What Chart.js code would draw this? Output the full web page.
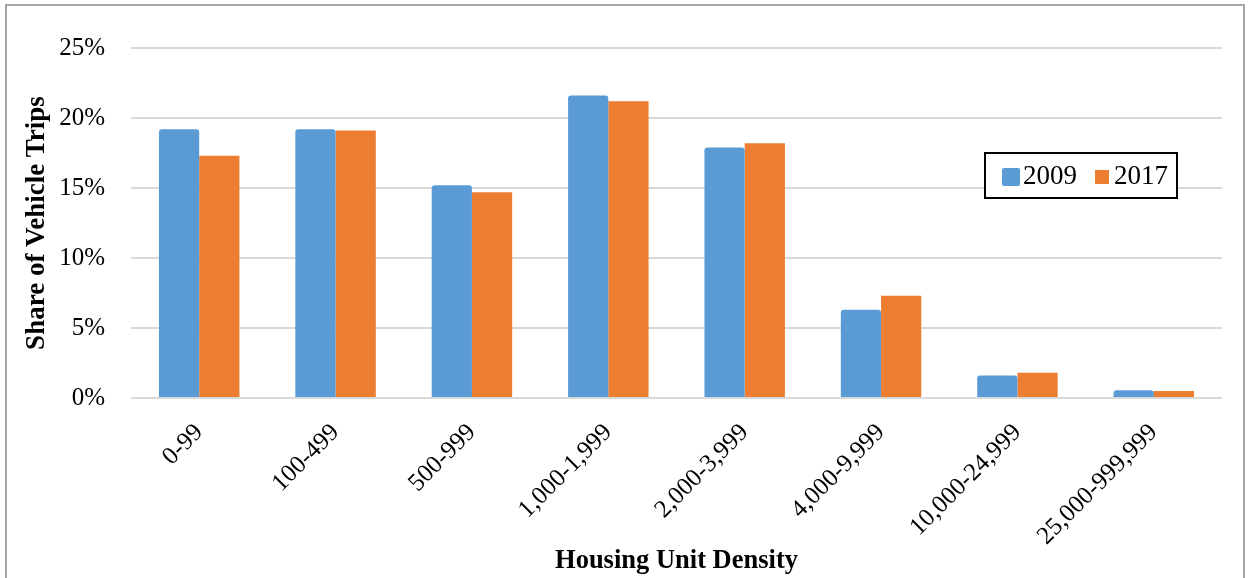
<!DOCTYPE html>
<html>
<head>
<meta charset="utf-8">
<script src="https://cdn.jsdelivr.net/npm/chart.js@4.4.1/dist/chart.umd.min.js"></script>
<style>
  html, body { margin: 0; padding: 0; background: #fff; }
  #wrap { position: relative; width: 1253px; height: 578px; overflow: hidden; }
  #frame { position: absolute; left: 5px; top: 4px; width: 1240px; height: 600px; border: 2px solid #a5a5a5; box-sizing: border-box; pointer-events: none; }
  canvas { position: absolute; left: 0; top: 0; }
</style>
</head>
<body>
<div id="wrap">
  <canvas id="tripChart" width="1253" height="578"></canvas>
  <div id="frame"></div>
</div>
<script>
var categories = ["0-99", "100-499", "500-999", "1,000-1,999", "2,000-3,999", "4,000-9,999", "10,000-24,999", "25,000-999,999"];
var share2009 = [19.2, 19.2, 15.2, 21.6, 17.9, 6.3, 1.6, 0.55];
var share2017 = [17.3, 19.1, 14.7, 21.2, 18.2, 7.3, 1.8, 0.5];
var yTicks = [0, 5, 10, 15, 20, 25];

var serif = "'Liberation Serif', 'Times New Roman', serif";

// legend box sitting inside the plot, right side
var boxLegend = {
    id: 'boxLegend',
    afterDraw: function(chart) {
        var c = chart.ctx;
        var area = chart.chartArea;
        var x = area.right - 237, y = area.top + 105, w = 192, h = 45;
        c.save();
        c.fillStyle = '#fff';
        c.fillRect(x, y, w, h);
        c.strokeStyle = '#000';
        c.lineWidth = 2;
        c.strokeRect(x, y, w, h);
        c.font = '27px ' + serif;
        c.textBaseline = 'middle';
        var ds = chart.data.datasets;
        // first entry
        c.fillStyle = ds[0].backgroundColor;
        c.beginPath();
        c.roundRect(x + 17, y + 15, 18, 18, 2);
        c.fill();
        c.fillStyle = '#000';
        c.fillText(ds[0].label, x + 38, y + 24);
        // second entry
        c.fillStyle = ds[1].backgroundColor;
        c.fillRect(x + 110, y + 17, 14, 14);
        c.fillStyle = '#000';
        c.fillText(ds[1].label, x + 129, y + 24);
        c.restore();
    }
};

var ctx = document.getElementById("tripChart");
var tripChart = new Chart(ctx, {
    type: 'bar',
    data: {
        labels: categories,
        datasets: [
            {
                label: '2009',
                data: share2009,
                backgroundColor: '#5B9BD5',
                borderRadius: { topLeft: 3, topRight: 3 },
                borderSkipped: 'bottom',
                barPercentage: 1,
                categoryPercentage: 0.59
            },
            {
                label: '2017',
                data: share2017,
                backgroundColor: '#ED7D31',
                barPercentage: 1,
                categoryPercentage: 0.59
            }
        ]
    },
    options: {
        responsive: false,
        animation: false,
        layout: { padding: { left: 18, right: 31, top: 48, bottom: 1 } },
        plugins: {
            legend: { display: false },
            tooltip: { enabled: false }
        },
        scales: {
            x: {
                grid: { display: false, drawTicks: false },
                border: { display: false },
                ticks: {
                    color: '#000',
                    font: { family: serif, size: 25 },
                    minRotation: 45,
                    maxRotation: 45,
                    padding: 20,
                    autoSkip: false
                },
                title: {
                    display: true,
                    text: 'Housing Unit Density',
                    color: '#000',
                    font: { family: serif, size: 26.5, weight: 'bold' },
                    padding: 0
                },
                afterFit: function(scale) { scale.height = 179; }
            },
            y: {
                min: 0,
                max: 25,
                afterBuildTicks: function(scale) {
                    scale.ticks = yTicks.map(function(v) { return { value: v }; });
                },
                grid: { color: '#d9d9d9', lineWidth: 2, drawTicks: false },
                border: { display: false },
                ticks: {
                    color: '#000',
                    font: { family: serif, size: 25 },
                    padding: 26,
                    callback: function(v) { return v + '%'; }
                },
                title: {
                    display: true,
                    text: 'Share of Vehicle Trips',
                    color: '#000',
                    font: { family: serif, size: 27, weight: 'bold' },
                    padding: { top: 3, bottom: 0 }
                },
                afterFit: function(scale) { scale.width = 113; }
            }
        }
    },
    plugins: [boxLegend]
});
</script>
</body>
</html>
